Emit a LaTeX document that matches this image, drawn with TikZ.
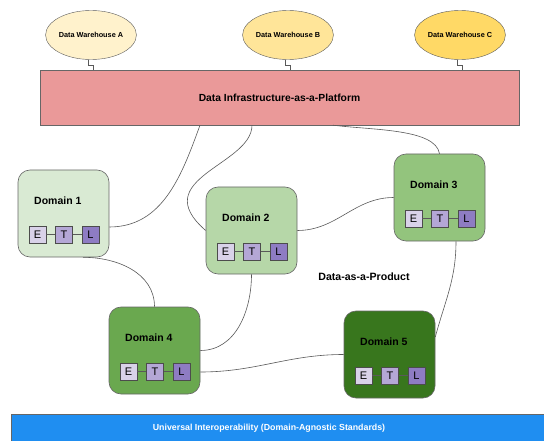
\documentclass[tikz,border=0pt]{standalone}
\usepackage{fontspec}
\setmainfont{Liberation Sans}
\usetikzlibrary{shapes.geometric}

\definecolor{whA}{HTML}{FFF2CC}
\definecolor{whB}{HTML}{FFE599}
\definecolor{whC}{HTML}{FFD966}
\definecolor{platred}{HTML}{EA9999}
\definecolor{dom1}{HTML}{D9EAD3}
\definecolor{dom2}{HTML}{B6D7A8}
\definecolor{dom3}{HTML}{93C47D}
\definecolor{dom4}{HTML}{6AA84F}
\definecolor{dom5}{HTML}{38761D}
\definecolor{etlE}{HTML}{D9D2E9}
\definecolor{etlT}{HTML}{B4A7D6}
\definecolor{etlL}{HTML}{8E7CC3}
\definecolor{stdblue}{HTML}{1F8EF1}

\begin{document}
\begin{tikzpicture}[x=1pt,y=-1pt,
	link/.style={draw=black!65,line width=0.6pt},
	wh/.style={draw=black!65,ellipse,fill=#1,minimum width=84pt,minimum height=49pt,inner sep=0pt,font=\fontsize{7.3}{8}\selectfont\bfseries},
	domain/.style={draw=black!60,line width=0.6pt,rounded corners=12pt,fill=#1,minimum width=91pt,minimum height=87pt},
	domtitle/.style={anchor=west,inner sep=0pt,font=\fontsize{10.5}{12}\selectfont\bfseries},
	etl/.style={draw=black!70,fill=#1,minimum size=17pt,inner sep=0pt,font=\fontsize{11}{12}\selectfont}]
	\useasboundingbox (0,0) rectangle (544,441);

	% warehouses on top of the platform
	\node[wh=whA] (wa) at (91,35) {Data Warehouse A};
	\node[wh=whB] (wb) at (288,35) {Data Warehouse B};
	\node[wh=whC] (wc) at (460,35) {Data Warehouse C};

	\node[draw=black!60,fill=platred,minimum width=479pt,minimum height=55pt,font=\fontsize{10.3}{12}\selectfont\bfseries] (plat) at (279.5,97.5) {Data Infrastructure-as-a-Platform};

	\foreach \w in {wa,wb,wc}
	{\draw[link] ([xshift=-3]\w.south) -- ++(0,5.5) -| ([xshift=2]\w.south |- plat.north);}

	% domains with their E-T-L chain
	\foreach \n/\x/\y/\c in {1/18/170/dom1, 2/206/187/dom2, 3/394/154/dom3, 4/109/307/dom4, 5/344/311/dom5}
	{
	\node[domain=\c] (d\n) at (\x+45.5,\y+43.5) {};
	\node[domtitle] (d\n-title) at (\x+16,\y+31) {Domain \n};
	\node[etl=etlE] (d\n-e) at (\x+19.5,\y+64.5) {E};
	\node[etl=etlT] (d\n-t) at (\x+46,\y+64.5) {T};
	\node[etl=etlL] (d\n-l) at (\x+72.5,\y+64.5) {L};
	\draw[link] (d\n-e) -- (d\n-t) -- (d\n-l);
	}

	\node[font=\fontsize{10.6}{12}\selectfont\bfseries] (dap) at (364,277) {Data-as-a-Product};

	% links between platform and domains
	\draw[link] ([yshift=-13.5]d1.east) to[out=0,in=-110] ([xshift=-79.5]plat.south);
	\draw[link] ([xshift=-27.5]plat.south) .. controls +(0,40) and +(-60,-52) .. (d2.west);
	\draw[link] ([xshift=53.5]plat.south) .. controls +(40,5) and +(-4,-25) .. (d3.north);
	\draw[link] (d2.east) to[out=0,in=180] (d3.west);
	\draw[link] ([xshift=19.5]d1.south) to[out=0,in=90] (d4.north);
	\draw[link] (d2.south) to[out=-90,in=0] (d4.east);
	\draw[link] ([yshift=-21.5]d4.east) to[out=0,in=180] (d5.west);
	\draw[link] ([xshift=16.5]d3.south) to[out=-90,in=75] ([yshift=17.5]d5.east);

	% standards bar
	\node[draw=black!60,fill=stdblue,minimum width=537pt,minimum height=29pt] (std) at (279.5,428.5) {};
	\node[text=white,font=\fontsize{8.8}{10}\selectfont\bfseries] (std-text) at (269,428) {Universal Interoperability (Domain-Agnostic Standards)};
\end{tikzpicture}
\end{document}
